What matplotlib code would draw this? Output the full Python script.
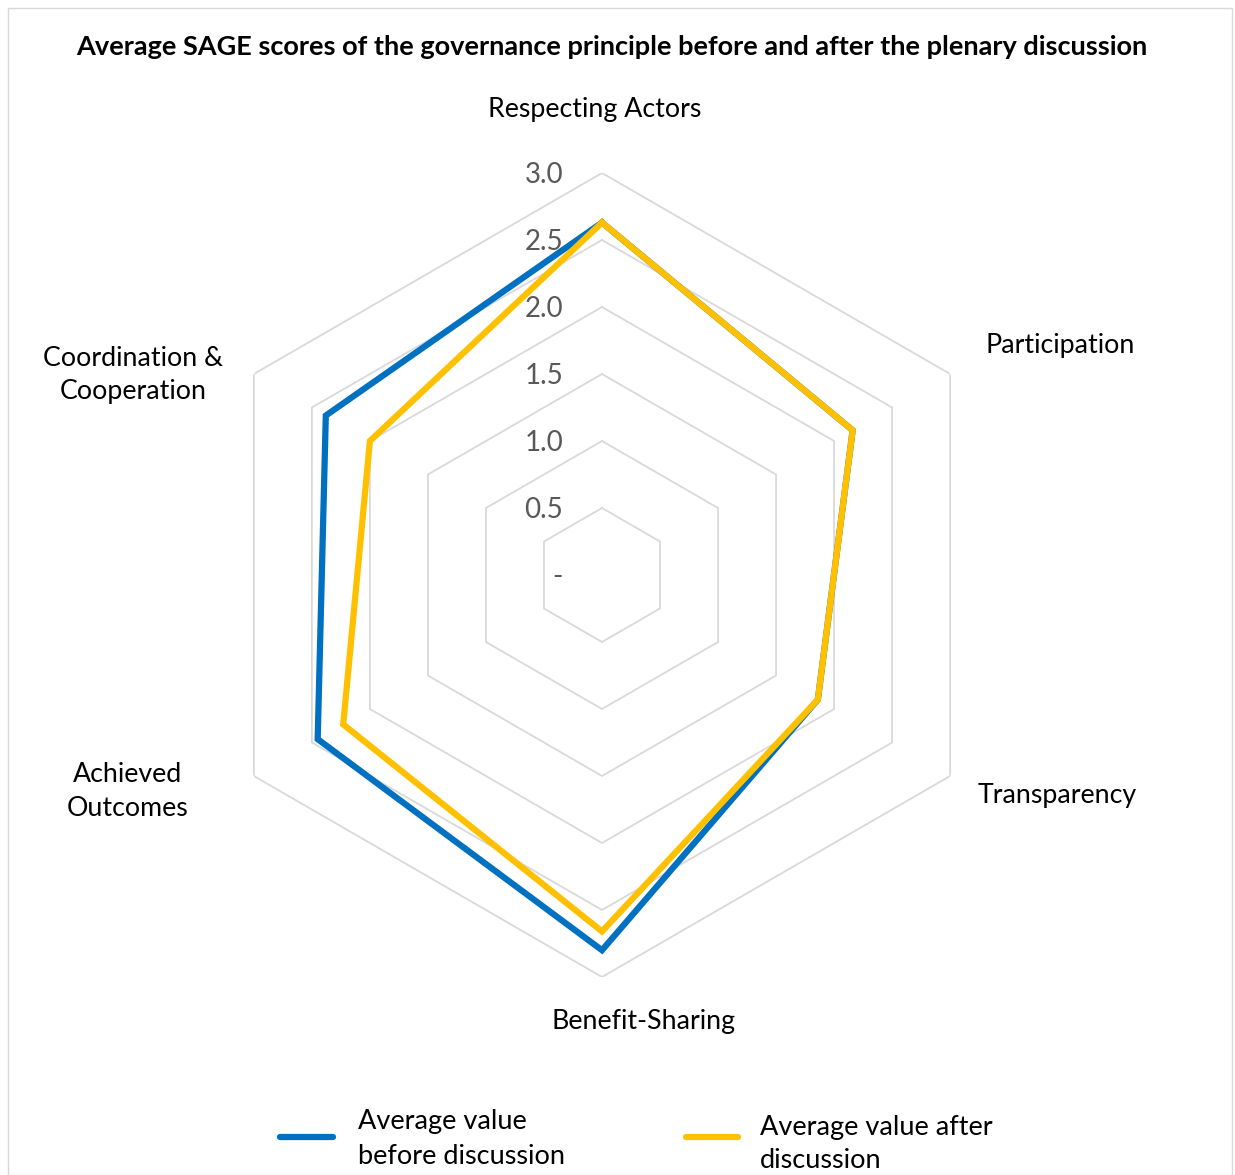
import numpy as np
import matplotlib
matplotlib.use('Agg')
import matplotlib.pyplot as plt
from matplotlib.lines import Line2D
from matplotlib.transforms import offset_copy

plt.rcParams['font.family'] = ['Lato', 'DejaVu Sans']

categories = ['Respecting Actors', 'Participation', 'Transparency',
              'Benefit-Sharing', 'Achieved\nOutcomes', 'Coordination &\nCooperation']
before = [2.63, 2.16, 1.86, 2.80, 2.45, 2.38]
after = [2.63, 2.16, 1.86, 2.66, 2.23, 2.00]
ring_values = [0.5, 1.0, 1.5, 2.0, 2.5, 3.0]
ring_labels = ['-', '0.5', '1.0', '1.5', '2.0', '2.5', '3.0']
series_names = ['Average value\nbefore discussion', 'Average value after\ndiscussion']

W, H = 1235, 1175
fig = plt.figure(figsize=(W / 100, H / 100), dpi=100)

# outer chart border
fig.add_artist(plt.Rectangle((8 / W, 0), (1232 - 8) / W, (H - 8) / H, transform=fig.transFigure,
                             fill=False, edgecolor='#d9d9d9', linewidth=1))

cx, cy, R = 602, 575, 402
ax = fig.add_axes([(cx - R) / W, (H - cy - R) / H, 2 * R / W, 2 * R / H], projection='polar')
ax.set_theta_zero_location('N')
ax.set_theta_direction(-1)
ax.set_ylim(0, 3)
ax.set_xticks([])
ax.set_yticks([])
ax.grid(False)
ax.spines['polar'].set_visible(False)
ax.patch.set_alpha(0)

theta = np.linspace(0, 2 * np.pi, len(categories), endpoint=False)
theta_c = np.append(theta, theta[0])

# hexagon gridlines (no spokes in the original)
for r in ring_values:
    ax.plot(theta_c, [r] * len(theta_c), color='#d9d9d9', lw=1.3, zorder=1)

# ring value labels
lab_tr = offset_copy(ax.transData, fig=fig, x=-39, y=-2, units='dots')
for r, lab in zip([0] + ring_values, ring_labels):
    ax.text(0, r, lab, transform=lab_tr, ha='right', va='center',
            fontsize=20, color='#595959', zorder=3)

ax.plot(theta_c, before + before[:1], color='#0070c0', lw=4.5, solid_joinstyle='miter', zorder=4)
ax.plot(theta_c, after + after[:1], color='#ffc000', lw=4.5, solid_joinstyle='miter', zorder=5)

# category labels (pixel positions of the reference layout)
cat_pos = [(595, 109), (1060, 346), (1057, 795), (644, 1022), (128, 792), (133, 375)]
for lab, (px, py) in zip(categories, cat_pos):
    fig.text(px / W, 1 - py / H, lab, ha='center', va='center', fontsize=19.3,
             color='black', linespacing=1.45)

fig.text(612 / W, 1 - 47 / H,
         'Average SAGE scores of the governance principle before and after the plenary discussion',
         ha='center', va='center', fontsize=19.5, fontweight='bold')

# legend
colors = ['#0070c0', '#ffc000']
leg_line = [(280, 333, 1137), (686, 738, 1137)]
leg_text = [(358, 1139), (760, 1144)]
for name, c, (x0, x1, y), (tx, ty) in zip(series_names, colors, leg_line, leg_text):
    fig.add_artist(Line2D([x0 / W, x1 / W], [1 - y / H, 1 - y / H], transform=fig.transFigure,
                          color=c, lw=4.5, solid_capstyle='round'))
    fig.text(tx / W, 1 - ty / H, name, ha='left', va='center', fontsize=19.5, linespacing=1.45)

fig.savefig('out.png', dpi=100)
